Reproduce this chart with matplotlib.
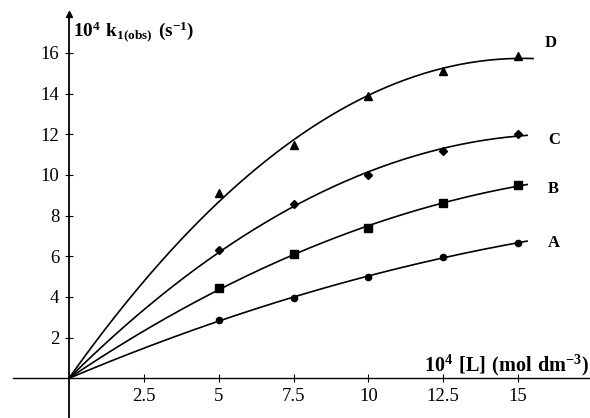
import numpy as np
import matplotlib
matplotlib.use('Agg')
import matplotlib.pyplot as plt

plt.rcParams['font.family'] = ['Liberation Serif', 'DejaVu Serif']
plt.rcParams['mathtext.fontset'] = 'custom'
plt.rcParams['mathtext.rm'] = 'Liberation Serif'
plt.rcParams['mathtext.bf'] = 'Liberation Serif:bold'

# data
conc = [5, 7.5, 10, 12.5, 15]
k_A = [2.89, 3.94, 4.99, 5.97, 6.66]
k_B = [4.45, 6.10, 7.40, 8.60, 9.50]
k_C = [6.30, 8.55, 10.00, 11.18, 12.03]
k_D = [9.09, 11.47, 13.86, 15.12, 15.86]
series_names = ['A', 'B', 'C', 'D']
x_ticks = [2.5, 5, 7.5, 10, 12.5, 15]
x_tick_labels = ['2.5', '5', '7.5', '10', '12.5', '15']
y_ticks = [2, 4, 6, 8, 10, 12, 14, 16]

fig = plt.figure(figsize=(5.9, 4.18), dpi=100)
ax = fig.add_axes([0, 0, 1, 1])
ax.set_xlim(-2.3, 17.4)
ax.set_ylim(-1.95, 18.6)

series = [k_A, k_B, k_C, k_D]
markers = ['o', 's', 'D', '^']
msizes = [4.5, 6, 4, 5.5]
ends = [15.3, 15.3, 15.3, 15.5]
label_pos = [(16.0, 6.63), (16.0, 9.33), (16.0, 11.7), (15.9, 16.5)]

x = np.array(conc)
for vals, name, mk, ms, xe, lp in zip(series, series_names, markers, msizes, ends, label_pos):
    y = np.array(vals)
    # quadratic through the origin, least squares
    A = np.vstack([x, x**2]).T
    c, *_ = np.linalg.lstsq(A, y, rcond=None)
    xs = np.linspace(0, xe, 200)
    ys = c[0]*xs + c[1]*xs**2
    ax.plot(xs, ys, color='black', lw=1.2)
    ax.plot(x, y, linestyle='none', marker=mk, ms=ms, color='black')
    ax.text(lp[0], lp[1], name, fontsize=12, fontweight='bold', va='center', ha='left')

# axes through the origin
for s in ['top', 'right']:
    ax.spines[s].set_visible(False)
ax.spines['left'].set_position(('data', 0))
ax.spines['bottom'].set_position(('data', 0))
ax.spines['left'].set_bounds(-1.95, 17.9)
ax.spines['bottom'].set_bounds(-1.87, 17.4)
ax.spines['left'].set_linewidth(1.3)
ax.spines['bottom'].set_linewidth(1.0)
ax.plot([0], [17.9], marker='^', ms=5, color='black', clip_on=False)

ax.set_xticks(x_ticks)
ax.set_xticklabels(x_tick_labels)
ax.set_yticks(y_ticks)
ax.tick_params(direction='inout', length=6, width=0.8, labelsize=13.5, pad=4)

ax.text(0.13, 17.05, r'$\mathbf{10^4\ k_{1(obs)}\ (s^{-1})}$', fontsize=13.8, ha='left', va='center')
ax.text(17.35, 0.65, r'$\mathbf{10^4\ [L]\ (mol\ dm^{-3})}$', fontsize=14.5, ha='right', va='center')

fig.savefig('out.png', dpi=100)
